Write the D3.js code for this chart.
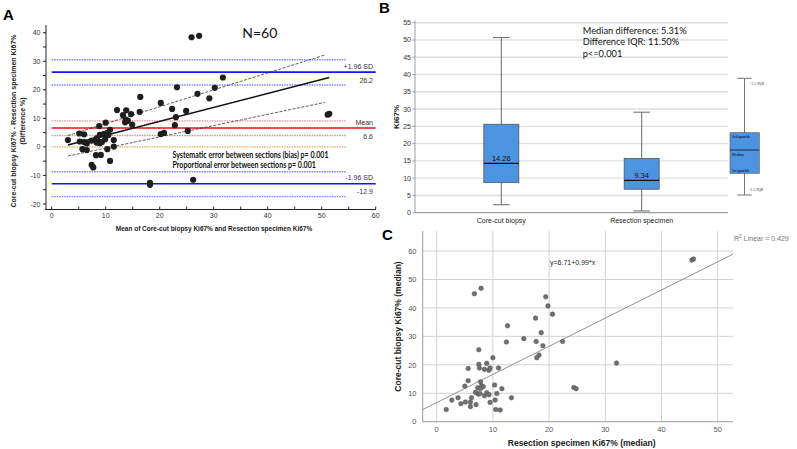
<!DOCTYPE html>
<html><head><meta charset="utf-8">
<script src="https://cdn.jsdelivr.net/npm/d3@7/dist/d3.min.js"></script>
<style>body{margin:0;background:#fff}svg{display:block}</style>
</head><body>
<svg id="fig" width="797" height="449"></svg>
<script>
// ---------- Panel A: Bland-Altman (mean, difference) ----------
const baMean = [25.9,27.3,31.7,23.2,30.2,27.0,29.2,16.4,20.2,22.3,24.9,12.1,13.8,16.3,13.2,14.7,23.0,51.1,51.4,10.0,
  13.7,14.1,13.6,14.9,22.8,25.2,20.2,20.8,8.8,3.0,5.1,6.0,5.2,6.0,6.5,5.7,6.5,7.4,8.3,8.3,
  8.9,9.6,10.2,10.5,8.9,9.9,10.8,11.5,11.5,10.3,8.2,9.1,10.8,7.4,7.7,18.2,18.2,26.2,9.3,8.6];
const baDiff = [38.4,38.9,24.3,20.9,20.7,18.6,17.0,17.5,15.4,13.3,12.6,12.9,12.8,12.3,11.1,11.5,10.4,11.3,11.6,8.5,
  9.6,9.2,8.6,7.8,7.6,5.6,4.5,4.9,7.3,2.4,4.7,4.4,1.9,1.7,1.2,-0.8,-1.1,2.2,1.5,3.0,
  4.2,4.5,4.8,4.2,1.3,2.7,6.0,2.4,0.1,-0.8,-2.9,-2.8,-4.9,-6.3,-7.2,-12.6,-13.3,-11.5,1.7,2.0];
const baXTicks = [0,10,20,30,40,50,60];
const baYTicks = [-20,-10,0,10,20,30,40];
const baBias = 6.6, baBiasCI = [4.0, 9.1];
const baUpper = 26.2, baUpperCI = [21.7, 30.5];
const baLower = -12.9, baLowerCI = [-17.4, -8.7];
const baRegX = [3.0, 51.4], baRegY = [0.7, 24.3];
const baCIX = [3.0, 50.6], baCIUp = [4.0, 32.2], baCILow = [-3.2, 15.6];

// ---------- Panel B: boxplots ----------
const boxCats = ["Core-cut biopsy", "Resection specimen"];
const boxMin = [2.3, 0.5];
const boxQ1 = [8.7, 6.8];
const boxMed = [14.26, 9.34];
const boxQ3 = [25.6, 15.7];
const boxMax = [50.7, 29.1];
const boxYTicks = d3.range(0, 56, 5);
const boxNotes = ["Median difference: 5.31%", "Difference IQR: 11.50%", "p<=0.001"];

// ---------- Panel C: scatter (resection, core) ----------
const scRes = [45.4,45.7,6.7,7.9,12.6,12.4,15.5,17.6,19.4,19.8,20.6,17.7,18.6,18.9,18.2,17.8,22.4,32.0,24.4,24.8,
  7.5,10.0,7.5,8.9,7.6,5.6,8.5,9.3,9.5,11.0,5.6,7.8,5.0,8.0,7.3,8.3,7.8,10.3,11.6,6.9,
  7.4,7.7,8.5,8.9,9.3,10.7,10.4,9.5,13.3,2.7,3.8,4.3,5.1,6.2,6.0,6.0,7.0,1.7,10.5,11.3];
const scCore = [56.8,57.2,45.0,46.9,33.7,28.0,29.2,36.4,43.9,40.7,37.8,28.2,31.3,26.7,23.4,22.5,28.2,20.6,12.0,11.6,
  25.3,22.5,20.2,20.5,18.9,18.7,18.4,18.1,18.9,18.9,14.4,14.0,12.5,12.6,11.9,12.3,11.7,12.9,11.6,10.3,
  9.7,9.9,9.1,10.2,9.5,9.9,7.6,6.8,8.4,7.6,8.4,6.3,6.9,8.4,6.9,5.3,6.0,4.3,4.3,4.1];
const scXTicks = [0,10,20,30,40,50];
const scYTicks = [0,10,20,30,40,50,60];
const scIntercept = 6.71, scSlope = 0.99;
const scR2 = 0.429;

const svg = d3.select("#fig");
svg.append("rect").attr("width",797).attr("height",449).attr("fill","#fff");
const ARIAL = "'Liberation Sans', Arial, sans-serif";
const CAL = "Lato, 'Open Sans', sans-serif";

// panel letters
[["A",3,20],["B",379,13],["C",382,240]].forEach(([t,x,y]) =>
  svg.append("text").attr("x",x).attr("y",y).text(t)
    .attr("font-family",ARIAL).attr("font-weight","bold").attr("font-size",15).attr("fill","#000"));

// ================= Panel A =================
(function(){
  const g = svg.append("g");
  const x = d3.scaleLinear([0,60],[51.7,375.7]);
  const y = d3.scaleLinear([-20,40],[204,32.7]);
  const dotted = [
    ...baUpperCI.map(v=>({v,c:"#7f7fff"})), ...baLowerCI.map(v=>({v,c:"#7f7fff"})),
    ...baBiasCI.map(v=>({v,c:"#f08a8a"})), {v:0,c:"#ffa04a"}];
  g.selectAll(".dl").data(dotted).join("line")
    .attr("x1",x(0)).attr("x2",x(54.5)).attr("y1",d=>y(d.v)).attr("y2",d=>y(d.v))
    .attr("stroke",d=>d.c).attr("stroke-width",1.4).attr("stroke-dasharray","1.5,1");
  const solid = [{v:baUpper,c:"#1515f5"},{v:baBias,c:"#e41010"},{v:baLower,c:"#1515f5"}];
  g.selectAll(".sl").data(solid).join("line")
    .attr("x1",x(0)).attr("x2",x(60)).attr("y1",d=>y(d.v)).attr("y2",d=>y(d.v))
    .attr("stroke",d=>d.c).attr("stroke-width",1.6);
  g.append("line").attr("x1",x(baRegX[0])).attr("x2",x(baRegX[1])).attr("y1",y(baRegY[0])).attr("y2",y(baRegY[1]))
    .attr("stroke","#111").attr("stroke-width",1.5);
  [baCIUp, baCILow].forEach(c => g.append("line")
    .attr("x1",x(baCIX[0])).attr("x2",x(baCIX[1])).attr("y1",y(c[0])).attr("y2",y(c[1]))
    .attr("stroke","#333").attr("stroke-width",0.8).attr("stroke-dasharray","3,1.5"));
  g.selectAll(".pt").data(baMean.map((m,i)=>[m,baDiff[i]])).join("circle")
    .attr("cx",d=>x(d[0])).attr("cy",d=>y(d[1])).attr("r",3.1).attr("fill","#1e1e1e");
  const labs = [["+1.96 SD",baUpper,-3.5],[String(baUpper),baUpper,10.5],["Mean",baBias,-3.5],[String(baBias),baBias,10.5],
    ["-1.96 SD",baLower,-3.5],[String(baLower),baLower,10.5]];
  labs.forEach(([t,v,dy]) => g.append("text").attr("x",373).attr("y",y(v)+dy).text(t)
    .attr("text-anchor","end").attr("font-family",ARIAL).attr("font-size",7).attr("fill","#333"));
  const ax = g.append("g").attr("font-family",ARIAL);
  ax.append("line").attr("x1",46).attr("x2",46).attr("y1",25).attr("y2",209.5).attr("stroke","#222");
  ax.append("line").attr("x1",45).attr("x2",376).attr("y1",209.5).attr("y2",209.5).attr("stroke","#222");
  const yt = d3.range(-20,41,5);
  ax.selectAll(".yt").data(yt).join("line").attr("x1",43).attr("x2",46).attr("y1",d=>y(d)).attr("y2",d=>y(d)).attr("stroke","#222");
  ax.selectAll(".yl").data(baYTicks).join("text").attr("x",40.5).attr("y",d=>y(d)+2.5).text(d=>d)
    .attr("text-anchor","end").attr("font-size",7).attr("fill","#333");
  const xt = d3.range(0,61,5);
  ax.selectAll(".xt").data(xt).join("line").attr("x1",d=>x(d)).attr("x2",d=>x(d)).attr("y1",206.5).attr("y2",209.5).attr("stroke","#222");
  ax.selectAll(".xl").data(baXTicks).join("text").attr("x",d=>x(d)).attr("y",218).text(d=>d)
    .attr("text-anchor","middle").attr("font-size",7).attr("fill","#333");
  ax.append("text").attr("x",214).attr("y",231).attr("text-anchor","middle").attr("font-size",6.5).attr("font-weight","bold")
    .attr("fill","#222").text("Mean of Core-cut biopsy Ki67%  and Resection specimen Ki67%");
  const yt1 = ax.append("text").attr("transform","translate(16,121) rotate(-90)").attr("text-anchor","middle")
    .attr("font-size",7).attr("font-weight","bold").attr("fill","#222");
  yt1.append("tspan").attr("x",0).attr("y",0).text("Core-cut biopsy Ki67% - Resection specimen Ki67%");
  yt1.append("tspan").attr("x",0).attr("y",8.5).text("(Difference %)");
  g.append("text").attr("x",242.3).attr("y",37.5).text("N=60").attr("font-family",CAL).attr("font-size",14).attr("fill","#111");
  const s1 = g.append("text").attr("x",172.5).attr("y",157.8).text("Systematic error between sections (bias) p= 0.001")
    .attr("font-family",CAL).attr("font-weight","bold").attr("font-size",8.8).attr("fill","#111");
  const s2 = g.append("text").attr("x",172.5).attr("y",167.8).text("Proportional error between sections p= 0.001")
    .attr("font-family",CAL).attr("font-weight","bold").attr("font-size",8.8).attr("fill","#111");
  const w1 = s1.node().getComputedTextLength(), w2 = s2.node().getComputedTextLength();
  const target = 156;
  s1.attr("textLength",target).attr("lengthAdjust","spacingAndGlyphs");
  s2.attr("textLength",target*w2/w1).attr("lengthAdjust","spacingAndGlyphs");
})();

// ================= Panel B =================
(function(){
  const g = svg.append("g").attr("font-family",ARIAL);
  const y = d3.scaleLinear([0,55],[212.7,22.7]);
  const x = d3.scalePoint(boxCats,[415,728]).padding(0.615);
  g.selectAll(".gl").data(boxYTicks.filter(d=>d>0)).join("line")
    .attr("x1",415).attr("x2",728).attr("y1",d=>y(d)).attr("y2",d=>y(d)).attr("stroke","#dedede").attr("stroke-width",1.4);
  g.append("line").attr("x1",415).attr("x2",728).attr("y1",y(0)).attr("y2",y(0)).attr("stroke","#a0a0a0").attr("stroke-width",1.2);
  g.append("line").attr("x1",415).attr("x2",415).attr("y1",y(55)-2).attr("y2",y(0)).attr("stroke","#a0a0a0").attr("stroke-width",1);
  g.selectAll(".yt").data(boxYTicks).join("line").attr("x1",412.5).attr("x2",415).attr("y1",d=>y(d)).attr("y2",d=>y(d)).attr("stroke","#999");
  g.selectAll(".yl").data(boxYTicks).join("text").attr("x",411).attr("y",d=>y(d)+2.5).text(d=>d)
    .attr("text-anchor","end").attr("font-size",7).attr("fill","#333");
  g.append("text").attr("transform","translate(399,117) rotate(-90)").attr("text-anchor","middle")
    .attr("font-size",8).attr("font-weight","bold").attr("fill","#222").text("Ki67%");
  const bw = 35, cw = 16.7;
  boxCats.forEach((c,i) => {
    const cx = x(c);
    g.append("line").attr("x1",cx).attr("x2",cx).attr("y1",y(boxMax[i])).attr("y2",y(boxQ3[i])).attr("stroke","#666");
    g.append("line").attr("x1",cx).attr("x2",cx).attr("y1",y(boxQ1[i])).attr("y2",y(boxMin[i])).attr("stroke","#666");
    [boxMax[i],boxMin[i]].forEach(v => g.append("line").attr("x1",cx-cw/2).attr("x2",cx+cw/2).attr("y1",y(v)).attr("y2",y(v)).attr("stroke","#666"));
    g.append("rect").attr("x",cx-bw/2).attr("y",y(boxQ3[i])).attr("width",bw).attr("height",y(boxQ1[i])-y(boxQ3[i]))
      .attr("fill","#4d94e0").attr("stroke","#555").attr("stroke-width",0.8);
    g.append("line").attr("x1",cx-bw/2).attr("x2",cx+bw/2).attr("y1",y(boxMed[i])).attr("y2",y(boxMed[i])).attr("stroke","#111").attr("stroke-width",1.3);
    g.append("text").attr("x",cx).attr("y",y(boxMed[i])-2.5).attr("text-anchor","middle").attr("font-size",7.5).attr("fill","#111").text(boxMed[i].toFixed(2));
    g.append("text").attr("x",cx).attr("y",223).attr("text-anchor","middle").attr("font-size",7).attr("fill","#222").text(c);
  });
  const nb = [33.5,45,56.5];
  const notes = boxNotes.map((t,i)=> g.append("text").attr("x",582.7).attr("y",nb[i]).text(t)
    .attr("font-family",CAL).attr("font-size",10).attr("fill","#111"));
  const w0 = notes[0].node().getComputedTextLength();
  notes.forEach(n=>n.attr("font-size",10*104/w0));
  const k = g.append("g");
  const kx = 744.5;
  k.append("line").attr("x1",kx).attr("x2",kx).attr("y1",78.3).attr("y2",195).attr("stroke","#777");
  [78.3,195].forEach(v=>k.append("line").attr("x1",737.3).attr("x2",751.7).attr("y1",v).attr("y2",v).attr("stroke","#777"));
  k.append("rect").attr("x",730).attr("y",132.7).attr("width",29.3).attr("height",40.6).attr("fill","#4d94e0").attr("stroke","#555").attr("stroke-width",0.6);
  k.append("line").attr("x1",730).attr("x2",759.3).attr("y1",150).attr("y2",150).attr("stroke","#1a2a50").attr("stroke-width",1);
  const SER = "'Liberation Serif', serif";
  [["+1.5 IQR",84.5],["-1.5 IQR",190.5]].forEach(([t,yy])=>k.append("text").attr("x",749).attr("y",yy).text(t)
    .attr("font-family",SER).attr("font-size",4).attr("fill","#333"));
  [["3rd quartile",137.5],["Median",155.5],["1st quartile",171.5]].forEach(([t,yy])=>k.append("text").attr("x",732).attr("y",yy).text(t)
    .attr("font-family",SER).attr("font-size",3.6).attr("font-weight","bold").attr("fill","#1a2a50"));
})();

// ================= Panel C =================
(function(){
  const g = svg.append("g").attr("font-family",ARIAL);
  const x = d3.scaleLinear([0,50],[436.7,717.7]);
  const y = d3.scaleLinear([0,60],[421.7,251]);
  const L = 422.7, R = 733, T = 231, B = 421.7;
  g.selectAll(".vg").data(scXTicks).join("line").attr("x1",d=>x(d)).attr("x2",d=>x(d)).attr("y1",T).attr("y2",B).attr("stroke","#d2d2d2");
  g.selectAll(".hg").data(scYTicks.filter(d=>d>0)).join("line").attr("x1",L).attr("x2",R).attr("y1",d=>y(d)).attr("y2",d=>y(d)).attr("stroke","#d2d2d2");
  g.append("line").attr("x1",L).attr("x2",L).attr("y1",T).attr("y2",B).attr("stroke","#9a9a9a");
  g.append("line").attr("x1",L).attr("x2",R).attr("y1",B).attr("y2",B).attr("stroke","#9a9a9a");
  g.selectAll(".xl").data(scXTicks).join("text").attr("x",d=>x(d)).attr("y",432).text(d=>d)
    .attr("text-anchor","middle").attr("font-size",7.5).attr("fill","#555");
  g.selectAll(".yl").data(scYTicks).join("text").attr("x",416.5).attr("y",d=>y(d)+2.7).text(d=>d)
    .attr("text-anchor","end").attr("font-size",7.5).attr("fill","#555");
  const xl0 = x.invert(L), xl1 = x.invert(R);
  g.append("line").attr("x1",L).attr("x2",R).attr("y1",y(scIntercept+scSlope*xl0)).attr("y2",y(scIntercept+scSlope*xl1))
    .attr("stroke","#888").attr("stroke-width",0.9);
  g.selectAll(".pt").data(scRes.map((r,i)=>[r,scCore[i]])).join("circle")
    .attr("cx",d=>x(d[0])).attr("cy",d=>y(d[1])).attr("r",2.3).attr("fill","#707070").attr("stroke","#505050").attr("stroke-width",0.5);
  g.append("text").attr("x",550).attr("y",264.5).attr("font-size",7).attr("fill","#222")
    .text(`y=${scIntercept}+${scSlope}*x`);
  const r2 = g.append("text").attr("x",734).attr("y",240.5).attr("font-size",7).attr("fill","#777");
  r2.append("tspan").text("R");
  r2.append("tspan").attr("dy",-2.5).attr("font-size",5).text("2");
  r2.append("tspan").attr("dy",2.5).text(` Linear = ${scR2}`);
  g.append("text").attr("x",581.7).attr("y",446).attr("text-anchor","middle").attr("font-size",8.5).attr("font-weight","bold").attr("fill","#222")
    .text("Resection specimen Ki67% (median)");
  g.append("text").attr("transform","translate(401,326.5) rotate(-90)").attr("text-anchor","middle").attr("font-size",8.5).attr("font-weight","bold").attr("fill","#222")
    .text("Core-cut biopsy Ki67% (median)");
})();
</script>
</body></html>
